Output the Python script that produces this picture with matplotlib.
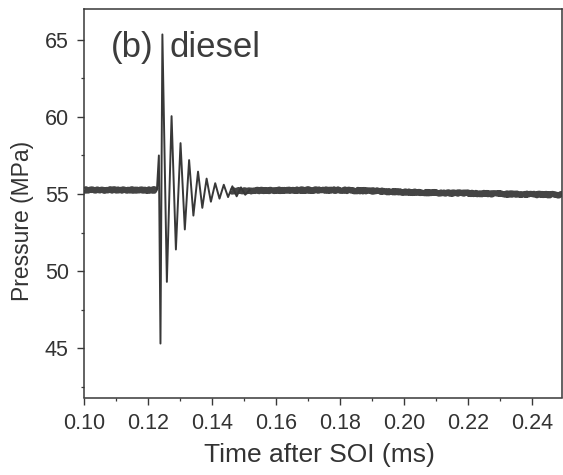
import matplotlib
matplotlib.use("Agg")
import matplotlib.pyplot as plt
from matplotlib.ticker import MultipleLocator, FormatStrFormatter

plt.rcParams["font.family"] = ["Liberation Sans", "DejaVu Sans"]

# Rail pressure trace after start of injection (diesel)
# steady level before the needle opens
pre_time = [0.100, 0.1228]
pre_pressure = [55.28, 55.28]

# pressure wave: successive extrema of the damped oscillation
wave_time = [0.1228, 0.1234, 0.1239, 0.1245, 0.1259, 0.12737, 0.12872, 0.13017,
             0.13151, 0.13285, 0.13419, 0.13564, 0.13698, 0.13832, 0.13966,
             0.14101, 0.14235, 0.14369, 0.14503, 0.14637, 0.14771, 0.14905,
             0.15039, 0.15173]
wave_pressure = [55.28, 57.5, 45.3, 65.35, 49.3, 60.05, 51.4, 58.3,
                 52.7, 57.2, 53.6, 56.45, 54.1, 56.0, 54.5,
                 55.7, 54.7, 55.6, 54.8, 55.5, 54.85, 55.43,
                 54.95, 55.25]

# steady level after the wave has decayed
post_time = [0.1460, 0.165, 0.180, 0.190, 0.200, 0.210, 0.220, 0.230, 0.240, 0.2495]
post_pressure = [55.2, 55.25, 55.25, 55.2, 55.12, 55.08, 55.05, 55.0, 54.97, 54.95]

x_ticks = [0.10, 0.12, 0.14, 0.16, 0.18, 0.20, 0.22, 0.24]
y_ticks = [45, 50, 55, 60, 65]

ink = "#383838"
text_color = "#333333"

fig = plt.figure(figsize=(5.63, 4.75), dpi=100, facecolor="white")
ax = fig.add_axes([84 / 563, 1 - 397.5 / 475, (561.7 - 84) / 563, (397.5 - 9) / 475])

band_kw = dict(color="#444444", lw=4.4, solid_capstyle="butt", zorder=2)
l1, = ax.plot(pre_time, pre_pressure, **band_kw)
l2, = ax.plot(post_time, post_pressure, **band_kw)
for ln in (l1, l2):
    ln.set_sketch_params(scale=0.8, length=0.6, randomness=6)
ax.plot(wave_time, wave_pressure, color=ink, lw=1.4, zorder=3)

ax.set_xlim(0.10, 0.2493)
ax.set_ylim(41.8, 67.0)
ax.set_xticks(x_ticks)
ax.set_yticks(y_ticks)
ax.xaxis.set_major_formatter(FormatStrFormatter("%.2f"))
ax.xaxis.set_minor_locator(MultipleLocator(0.01))
ax.yaxis.set_minor_locator(MultipleLocator(2.5))

ax.tick_params(which="both", direction="out", colors=ink, labelcolor=text_color,
               top=False, right=False)
ax.tick_params(which="major", length=5, width=1.0, labelsize=15.5, pad=6)
ax.tick_params(which="minor", length=2.5, width=0.9)
for sp in ax.spines.values():
    sp.set_color(ink)
    sp.set_linewidth(1.1)

ax.set_xlabel("Time after SOI (ms)", fontsize=19, color=text_color)
ax.set_ylabel("Pressure (MPa)", fontsize=16.5, color=text_color)
ax.xaxis.set_label_coords(0.492, -0.118)
ax.yaxis.set_label_coords(-0.1047, 0.454)

label_kw = dict(transform=ax.transAxes, fontsize=25, color="#3c3c3c",
                va="baseline", ha="left")
ax.text(0.0565, 0.8772, "(b)", **label_kw)
ax.text(0.1800, 0.8772, "diesel", **label_kw)

fig.savefig("out.png", dpi=100, facecolor="white")
